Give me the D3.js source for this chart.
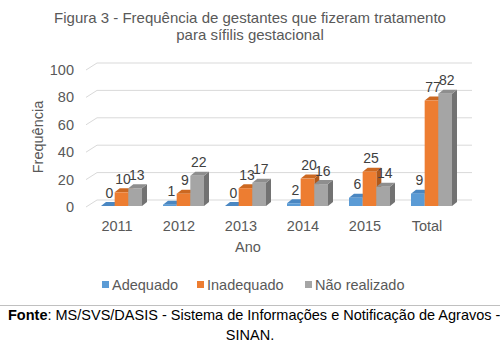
<!DOCTYPE html>
<html>
<head>
<meta charset="utf-8">
<script src="https://cdn.jsdelivr.net/npm/d3@7"></script>
<style>
  body { margin: 0; background: #fff; }
  svg { display: block; font-family: "Liberation Sans", Arial, sans-serif; }
</style>
</head>
<body>
<svg id="chart" width="500" height="343"></svg>
<script>
// data
var categories = ["2011", "2012", "2013", "2014", "2015", "Total"];
var seriesNames = ["Adequado", "Inadequado", "Não realizado"];
var adequado = [0, 1, 0, 2, 6, 9];
var inadequado = [10, 9, 13, 20, 25, 77];
var naoRealizado = [13, 22, 17, 16, 14, 82];
var yTicks = [0, 20, 40, 60, 80, 100];

var seriesValues = [adequado, inadequado, naoRealizado];
var colors = [
  {front: "#5B9BD5", top: "#4A87C2", side: "#3E72A6"},
  {front: "#ED7D31", top: "#CC6821", side: "#B0591B"},
  {front: "#A5A5A5", top: "#8E8E8E", side: "#727272"}
];

var svg = d3.select("#chart");

// 3d offsets
var wallDx = 11, wallDy = -7;     // depth of the floor / walls
var barDx = 5, barDy = -4;        // depth of each bar

var x = d3.scaleBand().domain(categories).range([86, 458]);
var y = d3.scaleLinear().domain([0, 100]).range([207, 70]);
var xs = d3.scaleBand().domain(seriesNames).range([0, 41]);

// title
svg.append("text").attr("x", 250).attr("y", 23).attr("text-anchor", "middle")
   .style("font-size", "15px").style("fill", "#595959")
   .text("Figura 3 - Frequência de gestantes que fizeram tratamento");
svg.append("text").attr("x", 250).attr("y", 40).attr("text-anchor", "middle")
   .style("font-size", "15px").style("fill", "#595959")
   .text("para sífilis gestacional");

// gridlines (back wall + slanted left wall)
var grid = svg.append("g");
yTicks.forEach(function(t) {
  var yf = y(t), yb = y(t) + wallDy;
  grid.append("line").attr("x1", 86).attr("y1", yf).attr("x2", 86 + wallDx).attr("y2", yb)
      .style("stroke", "#d9d9d9").style("stroke-width", 1);
  grid.append("line").attr("x1", 86 + wallDx).attr("y1", yb).attr("x2", 472).attr("y2", yb)
      .style("stroke", "#d9d9d9").style("stroke-width", 1);
});

// y tick labels
svg.append("g").selectAll("text").data(yTicks).enter().append("text")
   .attr("x", 74).attr("y", function(d) { return y(d) + 5; })
   .attr("text-anchor", "end").style("font-size", "14.5px").style("fill", "#595959")
   .text(function(d) { return d; });

// bars
var bars = svg.append("g");
var barW = xs.bandwidth();
var base = y(0) - 1;
categories.forEach(function(c, ci) {
  seriesNames.forEach(function(s, si) {
    var v = seriesValues[si][ci];
    var x0 = x(c) + x.bandwidth() / 2 - 16 + xs(s);
    var x1 = x0 + barW;
    var yt = base - (y(0) - y(v));
    var col = colors[si];
    var g = bars.append("g");
    g.append("polygon")
     .attr("points", [[x1, yt], [x1 + barDx, yt + barDy], [x1 + barDx, base + barDy], [x1, base]].join(" "))
     .style("fill", col.side);
    g.append("polygon")
     .attr("points", [[x0, yt], [x1, yt], [x1 + barDx, yt + barDy], [x0 + barDx, yt + barDy]].join(" "))
     .style("fill", col.top);
    g.append("rect").attr("x", x0).attr("y", yt).attr("width", barW).attr("height", base - yt)
     .style("fill", col.front);
    // data label
    bars.append("text").attr("class", "lbl")
        .attr("x", (x0 + x1) / 2 + 1.5).attr("y", yt - 8.5)
        .attr("text-anchor", "middle").style("font-size", "14px").style("fill", "#404040")
        .text(v);
  });
});
// labels on top of all bars
bars.selectAll("text.lbl").raise();

// x category labels
svg.append("g").selectAll("text").data(categories).enter().append("text")
   .attr("x", function(d) { return x(d) + x.bandwidth() / 2; }).attr("y", 231)
   .attr("text-anchor", "middle").style("font-size", "14.5px").style("fill", "#595959")
   .text(function(d) { return d; });

// axis titles
svg.append("text").attr("x", 248).attr("y", 252).attr("text-anchor", "middle")
   .style("font-size", "14.5px").style("fill", "#595959").text("Ano");
svg.append("text").attr("transform", "translate(43,137) rotate(-90)").attr("text-anchor", "middle")
   .style("font-size", "14.5px").style("fill", "#595959").text("Frequência");

// legend
var legendX = [102, 197, 305];
var legend = svg.append("g");
seriesNames.forEach(function(s, i) {
  legend.append("rect").attr("x", legendX[i]).attr("y", 281).attr("width", 7).attr("height", 7)
        .style("fill", colors[i].front);
  legend.append("text").attr("x", legendX[i] + 10).attr("y", 290)
        .style("font-size", "14.5px").style("fill", "#595959").text(s);
});

// separator and source
svg.append("line").attr("x1", 0).attr("x2", 500).attr("y1", 305.5).attr("y2", 305.5)
   .style("stroke", "#c0c0c0").style("stroke-width", 1);
var src = svg.append("text").attr("x", 8).attr("y", 320).style("font-size", "14.5px").style("fill", "#000");
src.append("tspan").style("font-weight", "bold").text("Fonte");
src.append("tspan").text(": MS/SVS/DASIS - Sistema de Informações e Notificação de Agravos -");
svg.append("text").attr("x", 250).attr("y", 340).attr("text-anchor", "middle")
   .style("font-size", "14.5px").style("fill", "#000").text("SINAN.");
</script>
</body>
</html>
